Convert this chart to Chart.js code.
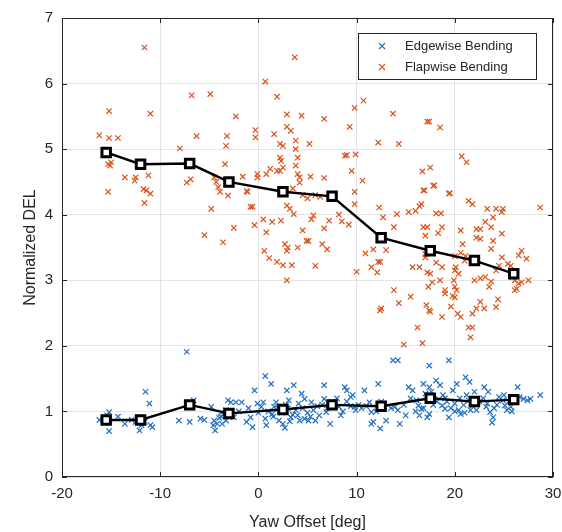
<!DOCTYPE html>
<html>
<head>
<meta charset="utf-8">
<script src="https://cdn.jsdelivr.net/npm/chart.js@4"></script>
<style>
  html, body { margin: 0; padding: 0; background: #fff; }
  #wrap { width: 562px; height: 532px; }
</style>
</head>
<body>
<div id="wrap"><canvas id="del-chart" width="562" height="532"></canvas></div>
<script>
// bin centres of the yaw offset and the mean DEL in each bin
const binX = [-15.5, -12, -7, -3, 2.5, 7.5, 12.5, 17.5, 22, 26];
const flapMean = [4.95, 4.77, 4.78, 4.5, 4.35, 4.28, 3.65, 3.45, 3.3, 3.1];
const edgeMean = [0.87, 0.87, 1.1, 0.97, 1.03, 1.1, 1.08, 1.2, 1.15, 1.18];

const xTicks = [-20, -10, 0, 10, 20, 30];
const yTicks = [0, 1, 2, 3, 4, 5, 6, 7];

// single 10-min samples [yaw offset, normalized DEL]
const flapPts = [
  [-16.2,5.21],[-15.2,5.58],[-15.2,5.17],[-14.3,5.17],[-15.3,4.77],[-15.1,4.75],[-15.0,4.8],[-15.3,4.35],
  [-13.6,4.57],[-12.6,4.52],[-12.5,4.57],[-11.6,6.55],[-11.0,5.54],[-11.7,4.39],[-11.4,4.37],[-11.0,4.32],
  [-11.2,4.6],[-11.6,4.18],[-8.0,5.01],[-6.8,5.82],[-6.3,5.2],[-7.3,4.49],[-6.9,4.54],[-4.9,5.84],
  [-3.4,4.77],[-3.2,5.2],[-3.3,5.05],[-4.5,4.57],[-4.3,4.5],[-4.1,4.42],[-3.9,4.35],[-2.3,5.5],
  [-1.6,4.58],[-0.3,5.29],[-0.3,5.18],[-1.1,4.35],[-0.1,4.62],[-0.1,4.57],[0.7,6.03],[0.8,4.62],
  [1.2,4.7],[1.9,4.67],[1.6,5.23],[1.9,5.8],[2.2,5.08],[2.5,5.05],[2.2,4.87],[2.3,4.82],
  [2.5,4.72],[2.2,4.67],[2.9,5.53],[4.4,5.51],[2.9,5.34],[3.3,5.28],[3.7,6.4],[3.8,5.13],
  [3.8,5.0],[4.0,4.87],[3.8,4.75],[4.0,4.62],[4.2,4.57],[4.2,4.49],[5.2,5.08],[5.3,4.58],
  [6.7,5.46],[6.7,4.56],[8.8,4.9],[9.0,4.91],[9.9,4.92],[9.3,5.34],[9.5,4.67],[9.8,5.63],
  [10.7,5.74],[10.6,4.52],[12.2,5.1],[13.7,5.54],[14.3,5.08],[16.7,4.66],[17.5,4.72],[16.9,4.37],
  [17.9,4.45],[17.2,5.42],[17.4,5.42],[18.5,5.33],[19.4,4.32],[20.7,4.89],[21.2,4.8],
  [-4.8,4.09],[-5.5,3.69],[-3.6,3.58],[-3.1,4.29],[-2.5,3.8],[-1.2,4.36],[-0.8,4.12],[-0.6,4.12],
  [-0.4,3.84],[0.5,3.93],[0.8,3.73],[0.6,3.45],[1.1,3.34],[1.4,3.89],[2.3,3.91],[1.9,3.28],
  [2.5,3.23],[2.9,3.0],[2.7,3.55],[3.0,3.5],[2.9,3.45],[2.9,4.14],[3.2,4.09],[3.6,4.01],
  [3.4,3.23],[4.0,3.5],[4.5,3.76],[4.9,3.6],[5.1,3.6],[5.4,3.93],[5.8,3.22],[5.6,3.99],
  [6.7,3.79],[6.5,3.55],[7.0,3.47],[7.2,3.91],[7.6,4.26],[9.8,4.35],[9.8,4.16],[10.0,3.13],
  [10.9,3.41],[11.5,3.2],[12.1,3.12],[12.2,3.28],[12.4,3.28],[11.7,3.47],[12.5,2.57],[12.4,2.54],
  [12.3,4.11],[12.7,3.96],[13.0,3.46],[13.8,3.81],[13.8,2.85],[14.3,2.65],[14.1,4.01],[14.8,2.02],
  [15.3,4.04],[16.0,4.06],[16.4,4.13],[16.6,4.16],[15.5,2.75],[15.7,3.2],[16.4,3.2],[16.2,2.28],
  [16.7,2.04],[16.8,4.37],[17.8,4.44],[16.8,3.81],[17.2,3.81],[17.0,3.68],[17.0,3.4],[17.0,3.35],
  [17.2,3.12],[17.5,3.1],[17.1,2.62],[17.4,2.54],[17.5,2.52],[17.3,2.9],[17.7,2.97],[18.1,4.02],
  [18.6,4.02],[18.3,3.72],[18.7,3.81],[18.1,3.27],[18.7,3.2],[18.5,3.0],[19.0,2.85],[19.0,2.8],
  [18.7,2.44],[19.5,4.33],[19.6,2.6],[19.8,2.76],[20.0,2.74],[19.9,3.0],[20.0,2.9],[20.2,2.85],
  [20.0,3.15],[20.4,3.1],[20.1,3.2],[20.3,2.49],[20.6,2.44],[20.0,3.37],[20.6,3.42],[20.8,3.55],
  [20.6,3.76],[21.1,3.37],[21.0,3.3],[21.4,4.21],[21.8,4.16],[21.4,2.28],[21.8,2.28],[21.6,2.13],
  [21.8,2.49],[22.2,2.57],[22.0,3.0],[22.6,3.03],[23.1,3.05],[22.2,3.65],[22.6,3.63],[22.2,3.78],
  [22.6,3.78],[22.6,2.67],[23.0,2.57],[23.1,3.89],[23.3,4.09],[23.7,3.81],[23.9,3.96],[23.7,3.48],
  [23.9,3.6],[24.2,4.09],[24.8,4.04],[24.9,4.09],[24.2,3.15],[24.5,3.22],[24.4,2.71],[24.2,2.59],
  [24.8,3.71],[24.8,3.35],[25.4,3.25],[25.7,3.22],[25.9,3.05],[26.1,3.0],[26.1,2.85],[26.3,2.87],
  [26.5,2.95],[26.8,2.97],[27.3,3.33],[27.5,3.0],[26.5,3.38],[26.8,3.45],[28.7,4.11],[25.9,3.12],
  [23.7,2.98],[23.5,2.9],[4.5,4.3],[5.0,4.25],[5.8,4.3],[6.3,4.27],[3.5,4.4],[8.2,4.0],[8.5,3.9],[9.2,3.85]
];

const edgePts = [
  [-16.2,0.87],[-15.2,0.70],[-15.2,0.99],[-15.4,0.94],[-14.3,0.92],[-13.6,0.81],[-12.5,0.84],[-12.1,0.71],
  [-11.9,0.79],[-11.6,0.84],[-11.5,1.30],[-11.1,1.12],[-11.0,0.79],[-10.8,0.76],[-12.9,0.87],[-12.3,0.88],
  [-7.3,1.91],[-8.1,0.86],[-7.0,0.84],[-6.6,1.17],[-5.9,0.89],[-5.5,0.87],[-4.8,1.07],[-4.6,0.79],
  [-4.4,0.71],[-4.2,0.81],[-4.5,0.86],[-3.8,0.92],[-3.5,0.96],[-3.3,1.02],[-3.1,1.17],[-2.8,1.14],
  [-3.7,0.81],[-3.3,0.86],[-2.3,1.14],[-1.7,1.14],[-2.5,0.91],[-1.2,0.84],[-0.8,0.91],[-0.6,0.76],
  [-0.4,1.32],[-0.1,1.12],[0.3,1.07],[0.5,1.14],[0.7,1.54],[0.7,0.89],[0.8,0.79],[1.3,1.42],
  [1.4,0.96],[1.6,1.07],[1.8,1.14],[2.1,0.86],[2.5,0.81],[2.7,0.75],[2.9,1.32],[3.1,1.17],
  [3.3,0.91],[3.6,1.40],[3.8,1.02],[4.0,0.94],[4.2,0.86],[4.4,1.27],[4.7,1.19],[4.7,0.89],
  [5.1,0.86],[5.4,1.14],[5.6,1.02],[5.8,0.86],[6.2,0.94],[6.7,1.40],[6.9,0.99],[6.7,1.19],
  [7.3,0.81],[8.2,1.07],[8.4,0.94],[8.8,1.37],[9.0,1.32],[9.4,1.22],[9.6,1.25],[9.8,1.07],
  [9.9,1.02],[10.8,1.32],[11.3,1.14],[11.5,0.99],[11.7,0.84],[11.5,0.81],[12.2,1.42],[12.4,0.74],
  [13.0,0.86],[13.7,1.78],[14.2,1.78],[13.9,1.07],[14.2,1.02],[14.4,0.81],[15.0,0.94],[15.3,1.37],
  [15.7,1.32],[16.1,1.17],[16.3,1.09],[16.4,0.94],[16.6,1.04],[16.8,1.42],[17.4,1.37],[17.4,1.70],
  [17.0,1.27],[17.5,1.25],[17.9,1.19],[17.2,0.91],[17.4,0.96],[18.1,1.47],[18.5,1.40],[18.7,1.09],
  [19.0,1.04],[19.4,1.78],[19.4,0.91],[19.8,1.32],[20.2,1.42],[20.0,1.12],[20.4,1.02],[20.6,0.96],
  [21.1,1.52],[21.5,1.45],[21.4,1.17],[21.8,1.09],[22.2,1.02],[23.0,1.37],[23.4,1.30],[23.2,1.07],
  [23.6,0.99],[23.9,0.91],[23.8,0.83],[24.5,1.22],[24.9,1.17],[25.1,1.09],[25.3,1.02],[25.7,1.07],
  [26.4,1.37],[27.0,1.19],[27.4,1.17],[27.7,1.19],[28.7,1.25],
  [1.0,1.0],[1.5,0.92],[2.0,1.05],[2.4,0.98],[3.0,1.05],[3.5,0.95],[4.5,1.05],[5.0,0.98],
  [6.0,1.08],[6.5,1.1],[7.5,1.15],[8.0,1.2],[9.0,1.15],[10.2,1.1],[10.5,1.05],[11.0,1.08],
  [12.0,1.0],[12.8,1.12],[13.5,1.05],[14.8,1.1],[16.0,1.0],[17.8,1.1],[18.2,1.15],[18.8,1.25],
  [19.2,1.15],[19.6,1.05],[20.5,1.2],[20.9,1.1],[21.2,1.25],[21.6,1.02],[22.5,1.15],[22.9,1.2],
  [23.3,1.12],[24.0,1.05],[24.3,1.1],[25.0,1.25],[25.5,1.15],[25.8,1.0],[26.2,1.15],[26.6,1.22],
  [19.0,1.2],[20.0,1.0],[21.0,0.98],[22.0,1.3],[-3.8,0.98],[-4.0,0.9],[-2.0,1.0],[-1.0,1.05],
  [0.0,0.98],[2.8,1.1],[3.2,0.85],[4.1,1.12],[5.3,0.92],[7.0,1.05],[8.6,1.0],[9.4,1.08],
  [12.5,1.15],[15.5,1.2],[16.8,1.05],[17.6,1.3]
];

const blue = "rgb(30,110,195)";
const orange = "rgb(217,83,25)";
const axisColor = "#262626";
const fontFamily = "'Liberation Sans', Arial, Helvetica, sans-serif";

const toXY = pts => pts.map(p => ({x: p[0], y: p[1]}));
const meanXY = vals => binX.map((x, i) => ({x: x, y: vals[i]}));

// matlab style box, inward ticks and legend inside the axes
const boxPlugin = {
  id: "box",
  afterDraw(chart) {
    const {ctx, chartArea: a, scales} = chart;
    ctx.save();
    ctx.strokeStyle = axisColor;
    ctx.lineWidth = 1;
    ctx.strokeRect(a.left + 0.5, a.top + 0.5, a.right - a.left - 1, a.bottom - a.top - 1);
    ctx.beginPath();
    xTicks.forEach(v => {
      const px = Math.round(scales.x.getPixelForValue(v)) + 0.5;
      ctx.moveTo(px, a.bottom); ctx.lineTo(px, a.bottom - 5);
      ctx.moveTo(px, a.top); ctx.lineTo(px, a.top + 5);
    });
    yTicks.forEach(v => {
      const py = Math.round(scales.y.getPixelForValue(v)) + 0.5;
      ctx.moveTo(a.left, py); ctx.lineTo(a.left + 5, py);
      ctx.moveTo(a.right, py); ctx.lineTo(a.right - 5, py);
    });
    ctx.stroke();

    // legend
    const lx = 358, ly = 33, lw = 178, lh = 46;
    ctx.fillStyle = "#fff";
    ctx.fillRect(lx, ly, lw, lh);
    ctx.strokeStyle = axisColor;
    ctx.strokeRect(lx + 0.5, ly + 0.5, lw, lh);
    const items = [["Edgewise Bending", blue, 46], ["Flapwise Bending", orange, 67]];
    ctx.font = "13px " + fontFamily;
    ctx.textBaseline = "middle";
    items.forEach(([label, col, yy]) => {
      ctx.strokeStyle = col;
      ctx.lineWidth = 1.1;
      ctx.beginPath();
      ctx.moveTo(379, yy - 3); ctx.lineTo(385, yy + 3);
      ctx.moveTo(385, yy - 3); ctx.lineTo(379, yy + 3);
      ctx.stroke();
      ctx.fillStyle = axisColor;
      ctx.fillText(label, 405, yy);
    });
    ctx.restore();
  }
};

const scatterStyle = col => ({
  type: "scatter",
  pointStyle: "crossRot",
  pointRadius: 3.8,
  pointBorderWidth: 1.2,
  borderColor: col,
  backgroundColor: col,
  order: 2
});

const meanStyle = {
  type: "line",
  showLine: true,
  borderColor: "#000",
  borderWidth: 2.4,
  pointStyle: "rect",
  pointRadius: 6,
  pointBorderWidth: 3,
  pointBorderColor: "#000",
  pointBackgroundColor: "#fff",
  tension: 0,
  fill: false,
  order: 0
};

new Chart(document.getElementById("del-chart"), {
  type: "scatter",
  data: {
    datasets: [
      Object.assign({label: "Edgewise Bending", data: toXY(edgePts)}, scatterStyle(blue)),
      Object.assign({label: "Flapwise Bending", data: toXY(flapPts)}, scatterStyle(orange)),
      Object.assign({label: "Edgewise mean", data: meanXY(edgeMean)}, meanStyle),
      Object.assign({label: "Flapwise mean", data: meanXY(flapMean)}, meanStyle)
    ]
  },
  options: {
    responsive: false,
    animation: false,
    layout: { padding: { top: 18, right: 8, left: 0, bottom: 0 } },
    plugins: { legend: { display: false }, tooltip: { enabled: false } },
    scales: {
      x: {
        type: "linear",
        min: -20, max: 30,
        afterBuildTicks: s => { s.ticks = xTicks.map(v => ({value: v})); },
        afterFit: s => { s.height = 55; s.paddingLeft = 0; s.paddingRight = 0; },
        grid: { color: "#e3e3e3", drawTicks: false },
        border: { display: false },
        ticks: { color: axisColor, padding: 8, font: { size: 15, family: fontFamily }, maxRotation: 0 },
        title: { display: true, text: "Yaw Offset [deg]", color: axisColor,
                 font: { size: 16, family: fontFamily }, padding: { top: 2, bottom: 0 } }
      },
      y: {
        type: "linear",
        min: 0, max: 7,
        afterBuildTicks: s => { s.ticks = yTicks.map(v => ({value: v})); },
        afterFit: s => { s.width = 62; s.paddingTop = 0; s.paddingBottom = 0; },
        grid: { color: "#e3e3e3", drawTicks: false },
        border: { display: false },
        ticks: { color: axisColor, padding: 9, font: { size: 15, family: fontFamily } },
        title: { display: true, text: "Normalized DEL", color: axisColor,
                 font: { size: 16, family: fontFamily }, padding: { top: 21, bottom: 0 } }
      }
    }
  },
  plugins: [boxPlugin]
});
</script>
</body>
</html>
